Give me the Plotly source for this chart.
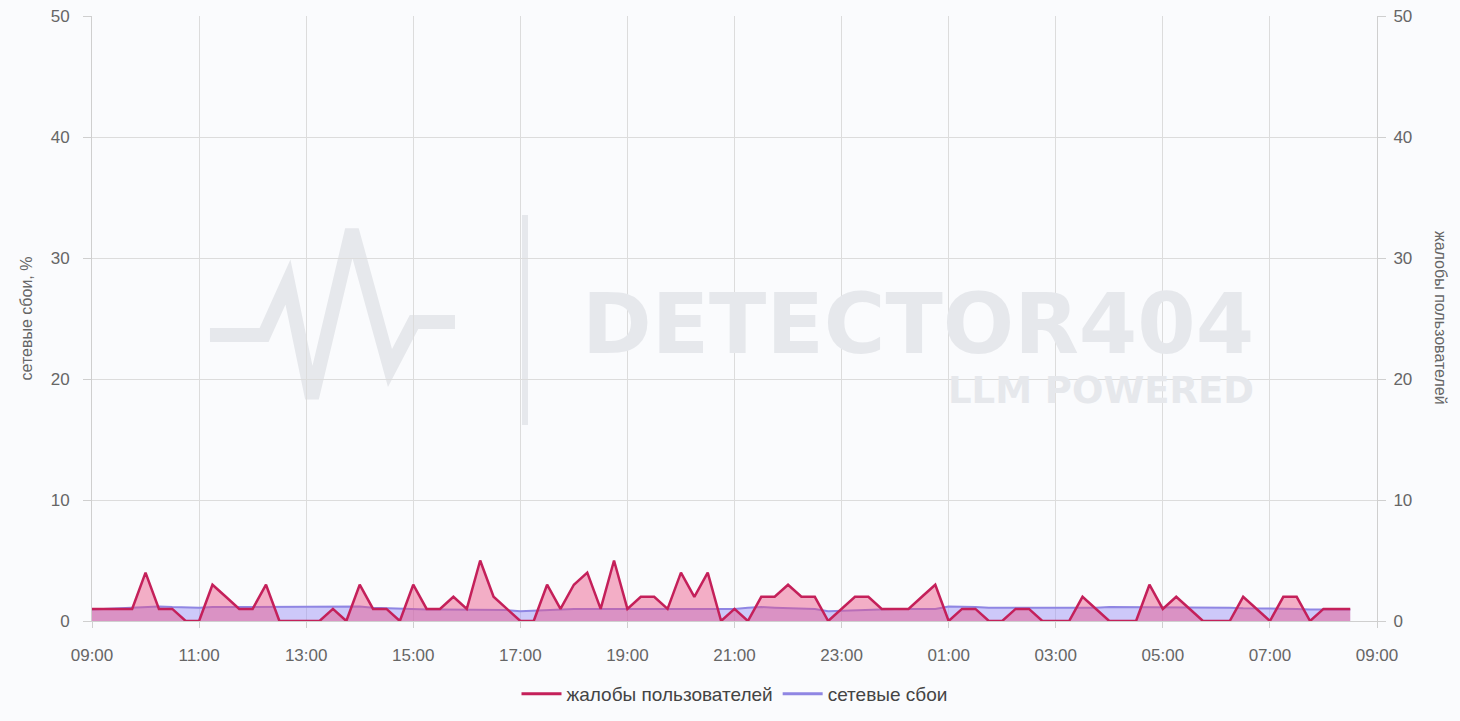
import pandas as pd
import plotly.graph_objects as go

# 15-minute samples from 09:00 to 08:30 next day
start_time = "2024-01-15 09:00"
end_time = "2024-01-16 09:00"

complaints = [
    1, 1, 1, 1, 4, 1, 1, 0,      # 09:00-10:45
    0, 3, 2, 1, 1, 3, 0, 0,      # 11:00-12:45
    0, 0, 1, 0, 3, 1, 1, 0,      # 13:00-14:45
    3, 1, 1, 2, 1, 5, 2, 1,      # 15:00-16:45
    0, 0, 3, 1, 3, 4, 1, 5,      # 17:00-18:45
    1, 2, 2, 1, 4, 2, 4, 0,      # 19:00-20:45
    1, 0, 2, 2, 3, 2, 2, 0,      # 21:00-22:45
    1, 2, 2, 1, 1, 1, 2, 3,      # 23:00-00:45
    0, 1, 1, 0, 0, 1, 1, 0,      # 01:00-02:45
    0, 0, 2, 1, 0, 0, 0, 3,      # 03:00-04:45
    1, 2, 1, 0, 0, 0, 2, 1,      # 05:00-06:45
    0, 2, 2, 0, 1, 1, 1,         # 07:00-08:30
]

network = [
    0.95, 1.0, 1.1, 1.15, 1.2, 1.2, 1.15, 1.1,
    1.1, 1.15, 1.15, 1.15, 1.2, 1.2, 1.2, 1.2,
    1.15, 1.15, 1.15, 1.2, 1.2, 1.1, 1.05, 1.0,
    1.0, 0.95, 0.95, 0.95, 0.95, 0.95, 0.95, 0.9,
    0.8, 0.85, 0.95, 1.0, 1.0, 1.0, 1.0, 0.95,
    0.95, 0.95, 0.95, 0.95, 0.95, 0.95, 0.95, 0.95,
    1.0, 1.1, 1.15, 1.1, 1.05, 1.05, 1.0, 0.8,
    0.85, 0.9, 0.95, 0.95, 1.0, 1.0, 1.0, 1.0,
    1.2, 1.2, 1.15, 1.1, 1.1, 1.05, 1.05, 1.1,
    1.1, 1.1, 1.1, 1.1, 1.15, 1.15, 1.15, 1.1,
    1.15, 1.1, 1.1, 1.1, 1.1, 1.1, 1.05, 1.05,
    1.0, 1.0, 1.0, 0.95, 0.95, 0.95, 0.95,
]

times = pd.date_range(start_time, periods=len(complaints), freq="15min")

name_complaints = "жалобы пользователей"
name_network = "сетевые сбои"
left_title = "сетевые сбои, %"

FONT = "Liberation Sans, Arial, sans-serif"
TICK_COLOR = "#666666"
GRID = "#dcdcdc"
BG = "#fafbfd"
WM = "#e6e8ec"
RED = "#c4205a"
PURPLE = "#8f86e3"

fig = go.Figure()

fig.add_trace(go.Scatter(
    x=times, y=network, name=name_network, mode="lines",
    line=dict(color=PURPLE, width=2),
    fill="tozeroy", fillcolor="rgba(150,140,245,0.45)",
    yaxis="y", showlegend=False,
))
fig.add_trace(go.Scatter(
    x=times, y=complaints, name=name_complaints, mode="lines",
    line=dict(color=RED, width=2.5),
    fill="tozeroy", fillcolor="rgba(236,80,130,0.45)",
    yaxis="y2", showlegend=False,
))
# legend entries (line only, no fill swatch)
fig.add_trace(go.Scatter(x=[None], y=[None], name=name_complaints, mode="lines",
                         line=dict(color=RED, width=3), legendrank=1))
fig.add_trace(go.Scatter(x=[None], y=[None], name=name_network, mode="lines",
                         line=dict(color=PURPLE, width=3), legendrank=2))

# plot area in pixels: x 92..1377, y 16..621
def px(x):
    return (x - 92) / 1285

def py(y):
    return (621 - y) / 605

# watermark logo (pulse) and separator
pulse = [(210, 335), (264, 335), (288, 282), (312, 398), (352, 230), (390, 368), (414, 322), (455, 322)]
path = "M " + " L ".join(f"{px(a):.4f},{py(b):.4f}" for a, b in pulse)
shapes = [
    dict(type="path", path=path, xref="paper", yref="paper",
         line=dict(color=WM, width=14), layer="below"),
    dict(type="line", x0=px(525), x1=px(525), y0=py(215), y1=py(425),
         xref="paper", yref="paper", line=dict(color=WM, width=6), layer="below"),
]

annotations = [
    dict(text="<b>DETECTOR404</b>", x=px(1256), y=py(324), xref="paper", yref="paper",
         xanchor="right", yanchor="middle", showarrow=False,
         font=dict(family="DejaVu Sans, sans-serif", size=84, color=WM)),
    dict(text="<b>LLM POWERED</b>", x=px(1256), y=py(391), xref="paper", yref="paper",
         xanchor="right", yanchor="middle", showarrow=False,
         font=dict(family="DejaVu Sans, sans-serif", size=37, color=WM)),
    dict(text=name_complaints, x=px(1441), y=py(318), xref="paper", yref="paper",
         textangle=90, xanchor="center", yanchor="middle", showarrow=False,
         font=dict(family=FONT, size=16, color=TICK_COLOR)),
]

fig.update_layout(
    width=1460, height=721,
    margin=dict(l=92, r=83, t=16, b=100, autoexpand=False),
    paper_bgcolor=BG, plot_bgcolor=BG,
    font=dict(family=FONT, size=17, color=TICK_COLOR),
    showlegend=True,
    legend=dict(orientation="h", x=0.5, xanchor="center",
                yref="container", y=(721 - 694) / 721, yanchor="middle",
                font=dict(family=FONT, size=19, color="#444444"),
                itemwidth=40),
    xaxis=dict(
        type="date", range=[start_time, end_time], tick0=start_time, dtick=7200000,
        tickformat="%H:%M", automargin=False, ticklabelstandoff=13,
        showgrid=True, gridcolor=GRID, gridwidth=1,
        showline=True, linecolor="#cfcfcf", ticks="outside", ticklen=6, tickcolor="#cfcfcf",
        tickfont=dict(size=17, color=TICK_COLOR), zeroline=False,
    ),
    yaxis=dict(
        range=[0, 50], dtick=10, showgrid=True, gridcolor=GRID, automargin=False,
        ticklabelstandoff=10,
        showline=True, linecolor="#cfcfcf", ticks="outside", ticklen=8, tickcolor="#cfcfcf",
        tickfont=dict(size=17, color=TICK_COLOR), zeroline=False,
        title=dict(text=left_title, font=dict(size=16, color=TICK_COLOR), standoff=14),
    ),
    yaxis2=dict(
        range=[0, 50], dtick=10, overlaying="y", side="right", showgrid=False, automargin=False,
        ticklabelstandoff=4,
        showline=True, linecolor="#cfcfcf", ticks="outside", ticklen=8, tickcolor="#cfcfcf",
        tickfont=dict(size=17, color=TICK_COLOR), zeroline=False,
    ),
    shapes=shapes,
    annotations=annotations,
)

fig.write_html(
    "out.html",
    config={"displayModeBar": False},
    post_script="document.body.style.margin='0';document.body.style.background='" + BG + "';",
)
